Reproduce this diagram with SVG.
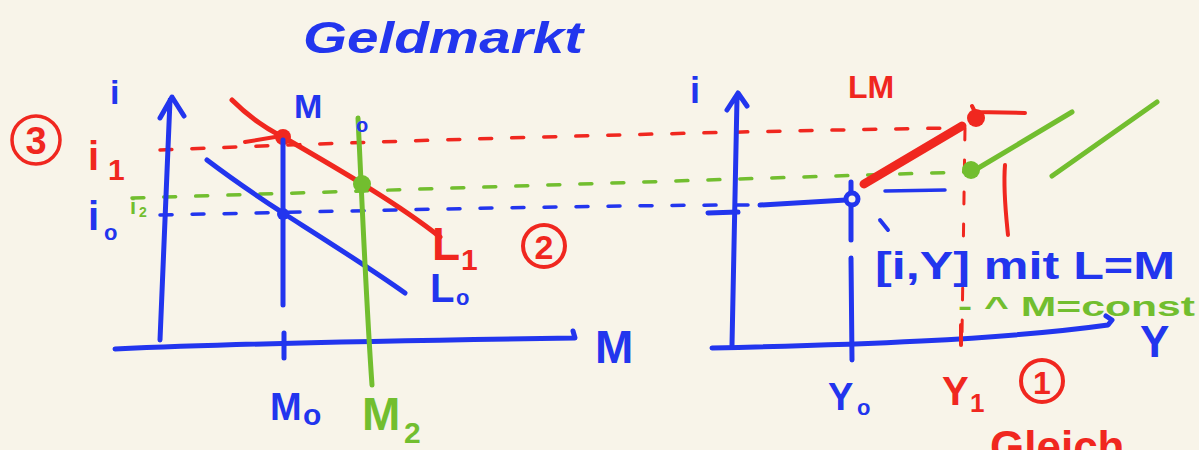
<svg xmlns="http://www.w3.org/2000/svg" width="1199" height="450" viewBox="0 0 1199 450">
<style>
.b{stroke:#2235ee;fill:none;stroke-width:5;stroke-linecap:round;stroke-linejoin:round}
.r{stroke:#f0271f;fill:none;stroke-width:5;stroke-linecap:round;stroke-linejoin:round}
.g{stroke:#72be2f;fill:none;stroke-width:5;stroke-linecap:round;stroke-linejoin:round}
.d{stroke-width:3.5;stroke-dasharray:12 20}
.tb{fill:#2235ee}.tr{fill:#f0271f}.tg{fill:#72be2f}
text{font-family:"Liberation Sans","DejaVu Sans",sans-serif;font-weight:bold}
</style>
<rect width="1199" height="450" fill="#f8f4e9"/>
<g id="connectors">
<path class="r d" d="M160,150 C400,140 700,132 950,128"/>
<path class="g d" d="M132,198 C400,190 700,180 965,172"/>
<path class="b d" d="M160,215 C400,210 600,205 760,205"/>
<path class="b" d="M760,205 L846,200"/>
<path class="b" d="M885,191 L945,190" style="stroke-width:3.5"/>
<path class="r d" d="M965,128 L962,335" style="stroke-width:3"/>
</g>
<g id="left-axes">
<path class="b" d="M160,340 L170,100 M160,118 L172,97 L184,116"/>
<path class="b" d="M115,349 C250,343 420,340 575,338 L573,331"/>
<path class="b" d="M284,333 L284,358"/>
</g>
<g id="right-axes">
<path class="b" d="M732,345 L737,98 M727,110 L738,93 L747,106"/>
<path class="b" d="M712,348 C850,345 1000,340 1108,325 L1112,320 L1106,316"/>
<path class="b" d="M708,213 L738,212"/>
<path class="r" d="M961,325 L961,345" style="stroke-width:4"/>
</g>
<g id="L1">
<path class="r" d="M232,100 C250,118 265,128 283,137 C340,170 400,205 440,237"/>
<circle cx="283" cy="137" r="8" fill="#f0271f"/>
<path class="r" d="M245,142 L275,137" style="stroke-width:4"/>
</g>
<g id="L0">
<path class="b" d="M207,160 C240,185 260,198 283,213 C330,243 370,268 405,293"/>
<circle cx="283" cy="214" r="6" fill="#2235ee"/>
</g>
<g id="M0">
<path class="b" d="M283,140 L283,305"/>
</g>
<g id="M2">
<path class="g" d="M358,118 C362,200 366,300 372,385"/>
<circle cx="362" cy="184" r="9" fill="#72be2f"/>
</g>
<g id="LM">
<path class="r" d="M864,184 L962,126" style="stroke-width:9"/>
<circle cx="976" cy="118" r="9" fill="#f0271f"/>
<path class="r" d="M972,106 L975,112 L1025,113" style="stroke-width:4"/>
<path class="r" d="M1005,165 C1003,190 1006,215 1008,235" style="stroke-width:4"/>
</g>
<g id="green-lines">
<path class="g" d="M975,170 L1072,112"/>
<circle cx="971" cy="170" r="9" fill="#72be2f"/>
<path class="g" d="M1052,176 L1157,102"/>
</g>
<g id="Y0line">
<path class="b" d="M851,182 L851,240 M851,258 L852,360"/>
<circle cx="852" cy="199" r="6" fill="#f8f4e9" stroke="#2235ee" stroke-width="5"/>
<path class="b" d="M880,220 L888,230" style="stroke-width:4"/>
</g>
<g id="labels">
<text x="303" y="53" class="tb" font-size="44" textLength="280" lengthAdjust="spacingAndGlyphs" font-style="italic">Geldmarkt</text>
<circle cx="36" cy="140" r="24" fill="none" stroke="#f0271f" stroke-width="3.5"/>
<text x="36" y="154" class="tr" font-size="38" text-anchor="middle">3</text>
<text x="110" y="104" class="tb" font-size="34">i</text>
<text x="88" y="170" class="tr" font-size="40">i</text>
<text x="108" y="180" class="tr" font-size="30">1</text>
<text x="88" y="230" class="tb" font-size="40">i</text>
<text x="104" y="240" class="tb" font-size="22">o</text>
<text x="130" y="214" class="tg" font-size="22">i</text>
<text x="139" y="217" class="tg" font-size="14">2</text>
<text x="294" y="118" class="tb" font-size="34">M</text>
<text x="356" y="132" class="tb" font-size="20">o</text>
<text x="432" y="260" class="tr" font-size="46">L</text>
<text x="461" y="270" class="tr" font-size="30">1</text>
<circle cx="544" cy="246" r="21" fill="none" stroke="#f0271f" stroke-width="4"/>
<text x="544" y="259" class="tr" font-size="34" text-anchor="middle">2</text>
<text x="430" y="302" class="tb" font-size="40">L</text>
<text x="456" y="305" class="tb" font-size="22">o</text>
<text x="595" y="363" class="tb" font-size="46">M</text>
<text x="270" y="420" class="tb" font-size="38">M</text>
<text x="303" y="425" class="tb" font-size="30">o</text>
<text x="362" y="430" class="tg" font-size="46">M</text>
<text x="404" y="443" class="tg" font-size="30">2</text>
<text x="690" y="103" class="tb" font-size="36">i</text>
<text x="848" y="98" class="tr" font-size="32">LM</text>
<text x="1140" y="357" class="tb" font-size="44">Y</text>
<text x="828" y="410" class="tb" font-size="38">Y</text>
<text x="857" y="415" class="tb" font-size="22">o</text>
<text x="942" y="405" class="tr" font-size="40">Y</text>
<text x="970" y="412" class="tr" font-size="26">1</text>
<circle cx="1042" cy="381" r="21" fill="none" stroke="#f0271f" stroke-width="4"/>
<text x="1042" y="394" class="tr" font-size="32" text-anchor="middle">1</text>
<text x="875" y="279" class="tb" font-size="38" textLength="300" lengthAdjust="spacingAndGlyphs">[i,Y] mit L=M</text>
<text x="958" y="316" class="tg" font-size="28" textLength="237" lengthAdjust="spacingAndGlyphs">- ^ M=const</text>
<text x="990" y="462" class="tr" font-size="44">Gleich</text>
</g>
</svg>
